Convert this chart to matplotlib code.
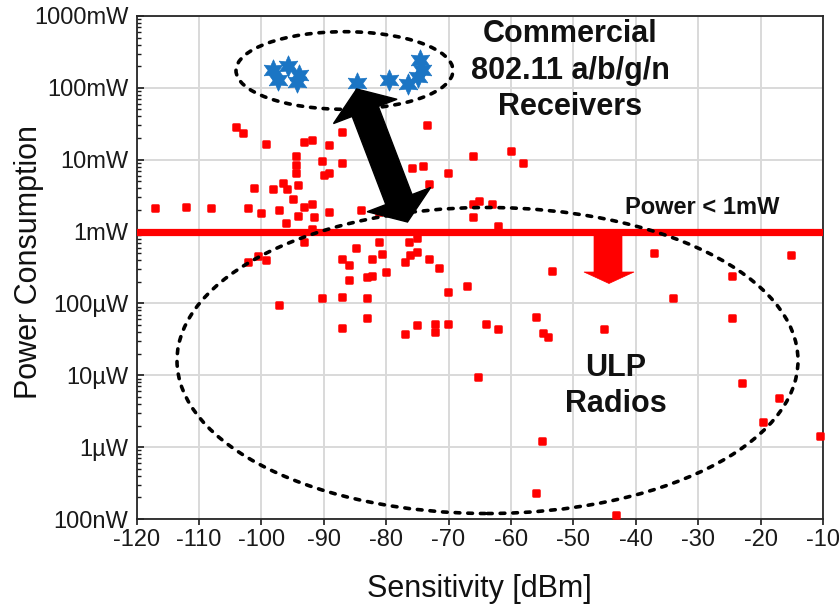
import matplotlib
matplotlib.use("Agg")
import matplotlib.pyplot as plt
import numpy as np
from matplotlib.patches import Ellipse, Polygon
from matplotlib.markers import MarkerStyle
from matplotlib.ticker import LogLocator, NullFormatter

plt.rcParams['font.family'] = ['Liberation Sans', 'DejaVu Sans']

# ---------------- data ----------------
# ULP radios and other receivers (sensitivity in dBm, power in mW)
upper_x = [-117.1, -112.1, -108.1, -104.1, -103.0, -99.2, -102.2, -101.2, -100.0, -98.2,
           -97.2, -96.6, -95.9, -95.0, -94.5, -94.5, -94.5, -94.2, -94.2, -93.2,
           -91.9, -91.6, -93.2, -91.9, -90.2, -90.0, -89.2, -89.2, -89.2, -87.1,
           -87.1, -84.1, -81.2, -75.9, -74.1, -73.5, -73.2, -70.1, -66.1, -66.1,
           -65.2, -63.1, -66.1, -62.1, -60.0, -58.1, -96.1, -91.9]
upper_y = [2.1, 2.2, 2.1, 28.6, 23.6, 16.6, 2.1, 4.1, 1.8, 3.9,
           2.0, 4.8, 3.9, 2.8, 11.3, 8.5, 6.6, 4.5, 1.65, 2.2,
           2.4, 1.6, 17.7, 18.8, 9.6, 6.1, 6.6, 16.1, 1.9, 24.4,
           9.0, 2.0, 1.9, 7.7, 8.2, 30.5, 4.6, 6.6, 11.3, 2.4,
           2.7, 2.4, 1.6, 1.2, 13.3, 9.0, 1.3, 1.09]

lower_x = [-93.2, -102.2, -100.6, -99.2, -97.2, -90.2, -87.1, -86.0, -86.0, -87.1,
           -87.1, -84.9, -83.1, -82.2, -82.2, -81.2, -80.6, -80.1, -83.1, -83.1,
           -77.0, -76.4, -76.9, -76.1, -75.1, -75.1, -75.1, -73.2, -72.2, -72.2,
           -71.6, -70.1, -70.1, -67.1, -65.3, -37.1, -15.1, -53.4, -24.6, -34.0,
           -64.0, -62.1, -56.0, -54.9, -54.1, -45.1, -24.6, -23.0, -17.0, -19.6,
           -10.5, -55.1, -56.0, -43.2]
lower_y = [0.72, 0.38, 0.46, 0.40, 0.096, 0.12, 0.42, 0.34, 0.21, 0.124,
           0.046, 0.59, 0.23, 0.24, 0.42, 0.72, 0.49, 0.27, 0.12, 0.063,
           0.037, 0.72, 0.38, 0.47, 0.52, 0.82, 0.050, 0.42, 0.052, 0.040,
           0.31, 0.145, 0.052, 0.176, 0.0095, 0.51, 0.47, 0.28, 0.24, 0.12,
           0.052, 0.044, 0.065, 0.039, 0.034, 0.044, 0.063, 0.0079, 0.0049, 0.00226,
           0.00144, 0.00123, 0.00023, 0.000115]

# Commercial 802.11 receivers
star_x = [-98.2, -97.4, -95.8, -93.9, -94.3, -84.7, -79.6, -76.5, -74.6, -74.3, -74.9]
star_y = [177, 129, 202, 151, 121, 117, 129, 113, 244, 177, 142]

limit_mw = 1.0

x_ticks = list(range(-120, -9, 10))
y_tick_vals = [1e-4, 1e-3, 1e-2, 1e-1, 1, 10, 100, 1000]
y_tick_labels = ['100nW', '1\u00b5W', '10\u00b5W', '100\u00b5W', '1mW', '10mW', '100mW', '1000mW']

# ---------------- figure ----------------
W, H = 839, 605
fig = plt.figure(figsize=(W / 100, H / 100), dpi=100)
ax = fig.add_axes([136.5 / W, 1 - 519 / H, (823 - 136.5) / W, (519 - 16) / H])


def fp(x, y):
    return (x / W, 1 - y / H)


ax.set_yscale('log')
ax.set_xlim(-120, -10)
ax.set_ylim(1e-4, 1e3)
ax.set_xticks(x_ticks, [str(t) for t in x_ticks])
ax.set_yticks(y_tick_vals, y_tick_labels)
ax.yaxis.set_minor_locator(LogLocator(base=10, subs=np.arange(2, 10)))
ax.yaxis.set_minor_formatter(NullFormatter())
ax.grid(which='major', color='#d9d9d9', lw=1.4)
ax.set_axisbelow(True)
for s in ax.spines.values():
    s.set_color('#262626')
    s.set_linewidth(1.3)
ax.tick_params(axis='x', direction='out', length=4.5, width=1.2, labelsize=17, pad=3, colors='#1a1a1a')
ax.tick_params(axis='y', which='major', direction='in', length=5, width=1.2, labelsize=17, pad=6, colors='#1a1a1a')
ax.tick_params(axis='y', which='minor', direction='in', length=3, width=1.0, colors='#1a1a1a')

ax.set_xlabel('Sensitivity [dBm]', fontsize=22, color='#111111')
ax.xaxis.set_label_coords(0.5, -0.109)
ax.set_ylabel('Power Consumption', fontsize=22, color='#111111')
ax.yaxis.set_label_coords(-0.135, 0.51)

# 1mW limit line
ax.axhline(limit_mw, color='#ff0000', lw=5.2, zorder=3)

sq = MarkerStyle('s', joinstyle='round')
ax.plot(upper_x, upper_y, ls='none', marker=sq, ms=5, mfc='#ff0000', mec='#ff0000', mew=1.8, zorder=4)
ax.plot(lower_x, lower_y, ls='none', marker=sq, ms=5, mfc='#ff0000', mec='#ff0000', mew=1.8, zorder=4, clip_on=False)
ax.plot(star_x, star_y, ls='none', marker=(6, 1, 0), ms=15.5, mfc='#1b75c4', mec='#1b75c4', mew=0.5, zorder=5)

# ---------------- annotations ----------------
dash = (0, (1.3, 2.2))
e1 = Ellipse(fp(344.5, 70.5), 217 / W, 77.6 / H, transform=fig.transFigure,
             fill=False, ec='black', lw=2.6, ls=dash, capstyle='round', zorder=6)
e2 = Ellipse(fp(487.5, 360.5), 621 / W, 306 / H, transform=fig.transFigure,
             fill=False, ec='black', lw=2.6, ls=dash, capstyle='round', zorder=6)
fig.add_artist(e1)
fig.add_artist(e2)

# black double arrow
A = np.array([356.7, 89.0])
B = np.array([407.5, 222.0])
u = (B - A) / np.linalg.norm(B - A)
n = np.array([u[1], -u[0]])
L, Hh, S = 24.0, 34.0, 14.0
pts = [A, A + L * u + Hh * n, A + L * u + S * n, B - L * u + S * n, B - L * u + Hh * n,
       B, B - L * u - Hh * n, B - L * u - S * n, A + L * u - S * n, A + L * u - Hh * n]
pts = [fp(p[0], p[1]) for p in pts]
fig.add_artist(Polygon(pts, closed=True, transform=fig.transFigure, fc='black', ec='black', lw=1, zorder=7))

# red down arrow
rpts = [(594, 233), (622, 233), (622, 272), (634, 272), (609, 283.5), (584, 272), (594, 272)]
fig.add_artist(Polygon([fp(x, y) for x, y in rpts], closed=True, transform=fig.transFigure,
                       fc='#ff0000', ec='#ff0000', lw=0.5, zorder=7))

fig.text(*fp(570, 70.5), 'Commercial\n802.11 a/b/g/n\nReceivers', ha='center', va='center',
         fontsize=22, fontweight='bold', linespacing=1.27, color='#111111', zorder=8)
fig.text(*fp(702, 207), 'Power < 1mW', ha='center', va='center', fontsize=17,
         fontweight='bold', color='#111111', zorder=8)
fig.text(*fp(616, 386), 'ULP\nRadios', ha='center', va='center', fontsize=22,
         fontweight='bold', linespacing=1.3, color='#111111', zorder=8)

fig.savefig('out.png', dpi=100)
